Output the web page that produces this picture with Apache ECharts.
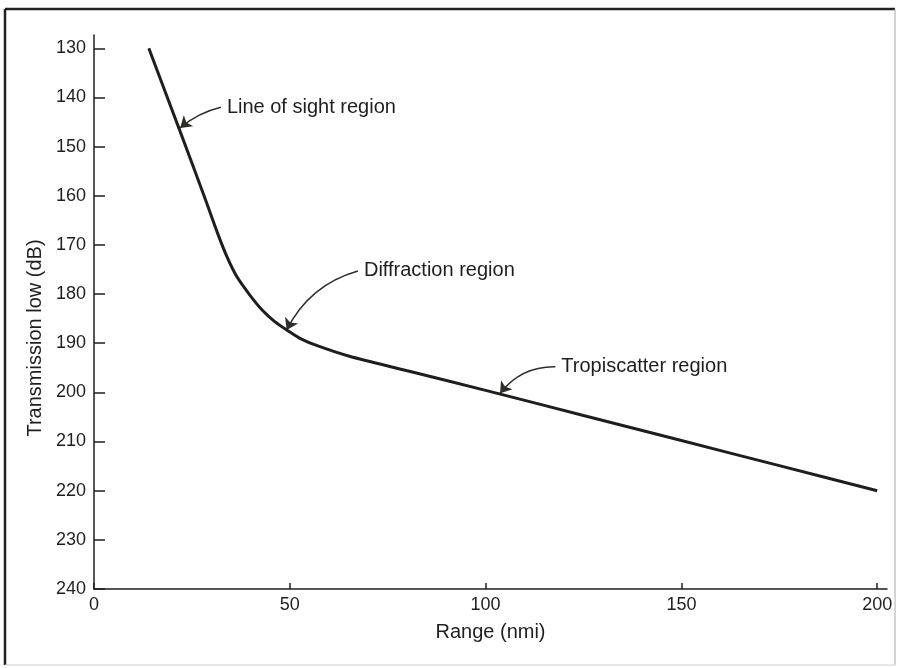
<!DOCTYPE html>
<html>
<head>
<meta charset="utf-8">
<script src="https://cdn.jsdelivr.net/npm/echarts@6/dist/echarts.min.js"></script>
<style>
html,body{margin:0;padding:0;background:#fff;}
#c{width:897px;height:668px;}
</style>
</head>
<body>
<div id="c"></div>
<script>
// Data
const rangeNmi = [14, 21.7, 28.1, 31.5, 34, 36.5, 39.8, 43, 46, 49.2, 52.6, 57, 65, 80, 100, 125, 150, 175, 200];
const lossDb   = [130, 146.3, 160, 167.5, 172.5, 176.5, 180.2, 183.3, 185.5, 187.3, 189, 190.5, 192.6, 195.6, 199.6, 204.7, 209.8, 214.9, 220];
const xTicks = [0, 50, 100, 150, 200];
const yTicks = [130, 140, 150, 160, 170, 180, 190, 200, 210, 220, 230, 240];
const annotationTexts = ['Line of sight region', 'Diffraction region', 'Tropiscatter region'];
const annotationFrom = [[32.4, 142.0], [67.4, 175.3], [117.8, 194.8]];
const annotationTo   = [[22.0, 146.2], [49.2, 187.3], [103.7, 200.2]];
const annotationCurve = [-0.12, -0.22, -0.25];

const FONT = 'Liberation Sans, Arial, Helvetica, sans-serif';
const INK = '#1e1e1c';

const chart = echarts.init(document.getElementById('c'), null, {renderer: 'canvas'});

const arrowSeries = annotationFrom.map((f, i) => ({
  type: 'lines',
  coordinateSystem: 'cartesian2d',
  silent: true,
  symbol: ['none', 'arrow'],
  symbolSize: 11,
  lineStyle: {color: '#2e2e2b', width: 1.5, opacity: 1, curveness: annotationCurve[i]},
  data: [{coords: [f, annotationTo[i]]}]
}));

const option = {
  backgroundColor: '#ffffff',
  animation: false,
  grid: {left: 94, right: 10, top: 35, bottom: 79, containLabel: false},
  xAxis: {
    type: 'value',
    min: 0, max: 202.5,
    name: 'Range (nmi)',
    nameLocation: 'middle',
    nameGap: 33,
    nameTextStyle: {fontFamily: FONT, fontSize: 20, color: INK},
    axisLine: {show: true, onZero: false, lineStyle: {color: INK, width: 1.5}},
    axisTick: {show: true, inside: true, length: 6, lineStyle: {color: INK, width: 1.5}, customValues: xTicks},
    axisLabel: {fontFamily: FONT, fontSize: 18, color: INK, margin: 7, customValues: xTicks},
    splitLine: {show: false}
  },
  yAxis: {
    type: 'value',
    inverse: true,
    min: 127.3, max: 240,
    name: 'Transmission low (dB)',
    nameLocation: 'middle',
    nameGap: 48,
    nameRotate: 90,
    nameTextStyle: {fontFamily: FONT, fontSize: 20, color: INK, padding: [0, 52, 0, 0]},
    axisLine: {show: true, onZero: false, lineStyle: {color: INK, width: 1.5}},
    axisTick: {show: true, inside: true, length: 11, lineStyle: {color: INK, width: 1.5}, customValues: yTicks},
    axisLabel: {fontFamily: FONT, fontSize: 18, color: INK, margin: 8, customValues: yTicks},
    splitLine: {show: false}
  },
  series: [
    {
      type: 'line',
      data: rangeNmi.map((x, i) => [x, lossDb[i]]),
      showSymbol: false,
      smooth: 0.3,
      lineStyle: {color: INK, width: 3}
    },
    ...arrowSeries
  ],
  graphic: [
    {type: 'line', shape: {x1: 5, y1: 9, x2: 895, y2: 9}, style: {stroke: '#222', lineWidth: 2.5}},
    {type: 'line', shape: {x1: 5, y1: 9, x2: 5, y2: 665}, style: {stroke: '#222', lineWidth: 2.5}},
    {type: 'line', shape: {x1: 895, y1: 9, x2: 895, y2: 665}, style: {stroke: '#aaa', lineWidth: 1}},
    {type: 'line', shape: {x1: 5, y1: 665, x2: 895, y2: 665}, style: {stroke: '#ccc', lineWidth: 1}}
  ]
};
chart.setOption(option);

// annotation texts placed at the arrow tails, positioned through the chart's own scales
const texts = annotationFrom.map((f, i) => {
  const p = chart.convertToPixel({gridIndex: 0}, f);
  return {
    type: 'text',
    x: p[0] + 6, y: p[1],
    style: {text: annotationTexts[i], fontFamily: FONT, fontSize: 20, fill: INK, verticalAlign: 'middle', align: 'left'}
  };
});
chart.setOption({graphic: option.graphic.concat(texts)});
</script>
</body>
</html>
